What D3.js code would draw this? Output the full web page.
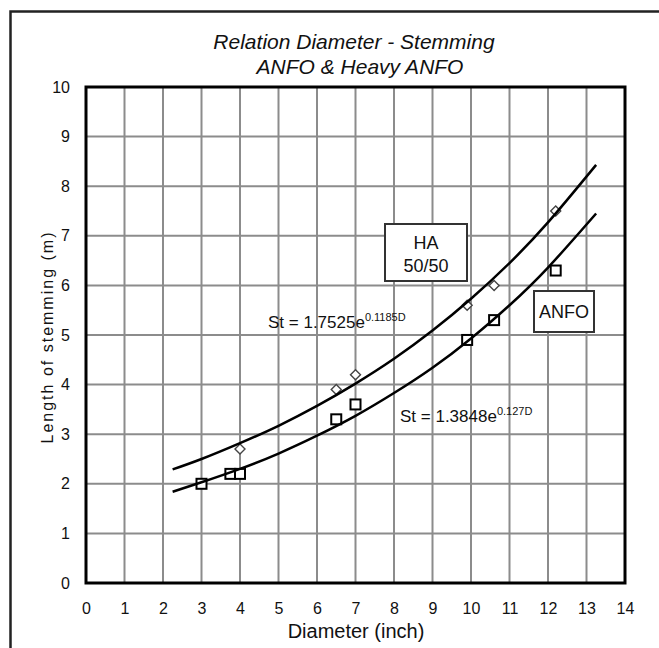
<!DOCTYPE html>
<html>
<head>
<meta charset="utf-8">
<script src="https://cdn.jsdelivr.net/npm/d3@7/dist/d3.min.js"></script>
<style>
  body { margin: 0; background: #fff; }
  text { font-family: "Liberation Sans", Arial, sans-serif; fill: #111; }
</style>
</head>
<body>
<script>
// Data
const haDiam = [4, 6.5, 7, 9.9, 10.6, 12.2];
const haStem = [2.7, 3.9, 4.2, 5.6, 6.0, 7.5];
const anfoDiam = [3, 3.75, 4, 6.5, 7, 9.9, 10.6, 12.2];
const anfoStem = [2.0, 2.2, 2.2, 3.3, 3.6, 4.9, 5.3, 6.3];

// trend lines, points
const curveDiam = [2.25, 3, 4, 5, 6, 7, 8, 9, 10, 11, 12, 13.25];
const haCurve = [2.29, 2.50, 2.82, 3.17, 3.57, 4.02, 4.52, 5.09, 5.73, 6.45, 7.27, 8.43];
const anfoCurve = [1.84, 2.03, 2.30, 2.61, 2.97, 3.37, 3.83, 4.34, 4.93, 5.60, 6.36, 7.45];

const xTicks = d3.range(0, 15);
const yTicks = d3.range(0, 11);

const w = 659;
const h = 648;
const padL = 86, padR = 625, padT = 87, padB = 583;

const svg = d3.select("body")
    .append("svg")
    .attr("width", w)
    .attr("height", h)

// outer frame
svg.append("rect")
    .attr("x", 10.5).attr("y", 11.5)
    .attr("width", 700).attr("height", 700)
    .attr("fill", "none")
    .attr("stroke", "#222")
    .attr("stroke-width", 2.5)

const x = d3.scaleLinear().domain([0, 14]).range([padL, padR]);
const y = d3.scaleLinear().domain([0, 10]).range([padB, padT]);

// grid
svg.append("g")
    .selectAll("line")
    .data(xTicks.slice(1, -1))
    .join("line")
    .attr("x1", d => x(d)).attr("x2", d => x(d))
    .attr("y1", padT).attr("y2", padB)
    .attr("stroke", "#8c8c8c").attr("stroke-width", 2)

svg.append("g")
    .selectAll("line")
    .data(yTicks.slice(1, -1))
    .join("line")
    .attr("y1", d => y(d)).attr("y2", d => y(d))
    .attr("x1", padL).attr("x2", padR)
    .attr("stroke", "#8c8c8c").attr("stroke-width", 2)

// axes (labels only)
const xAxis = svg.append("g")
    .attr("transform", `translate(0, ${padB})`)
    .call(d3.axisBottom(x).tickValues(xTicks).tickSize(0).tickPadding(20))
xAxis.select(".domain").remove()

const yAxis = svg.append("g")
    .attr("transform", `translate(${padL}, 0)`)
    .call(d3.axisLeft(y).tickValues(yTicks).tickSize(0).tickPadding(16))
yAxis.select(".domain").remove()

svg.selectAll(".tick text")
    .attr("font-size", 16)
    .attr("font-family", "Liberation Sans, Arial, sans-serif")
    .attr("fill", "#111")

// plot border
svg.append("rect")
    .attr("x", padL).attr("y", padT)
    .attr("width", padR - padL).attr("height", padB - padT)
    .attr("fill", "none")
    .attr("stroke", "#000")
    .attr("stroke-width", 3)

// markers
svg.append("g")
    .selectAll("path")
    .data(haDiam)
    .join("path")
    .attr("d", d3.symbol(d3.symbolDiamond2, 64))
    .attr("transform", (d, i) => `translate(${x(d)}, ${y(haStem[i])})`)
    .attr("fill", "#fff")
    .attr("stroke", "#444")
    .attr("stroke-width", 1.4)

svg.append("g")
    .selectAll("rect")
    .data(anfoDiam)
    .join("rect")
    .attr("x", d => x(d) - 5)
    .attr("y", (d, i) => y(anfoStem[i]) - 5)
    .attr("width", 10).attr("height", 10)
    .attr("fill", "#fff")
    .attr("stroke", "#000")
    .attr("stroke-width", 2)

// trend curves
const line = d3.line()
    .x(d => x(d[0]))
    .y(d => y(d[1]))
    .curve(d3.curveNatural)

svg.append("path")
    .attr("d", line(curveDiam.map((d, i) => [d, haCurve[i]])))
    .attr("fill", "none").attr("stroke", "#000").attr("stroke-width", 2.5)

svg.append("path")
    .attr("d", line(curveDiam.map((d, i) => [d, anfoCurve[i]])))
    .attr("fill", "none").attr("stroke", "#000").attr("stroke-width", 2.5)

// labelled boxes
svg.append("rect")
    .attr("x", 385).attr("y", 224).attr("width", 82).attr("height", 57)
    .attr("fill", "#fff").attr("stroke", "#333").attr("stroke-width", 2)
svg.append("text").attr("x", 426).attr("y", 249)
    .attr("text-anchor", "middle").attr("font-size", 18).text("HA")
svg.append("text").attr("x", 426).attr("y", 272)
    .attr("text-anchor", "middle").attr("font-size", 18).text("50/50")

svg.append("rect")
    .attr("x", 534).attr("y", 291).attr("width", 60).attr("height", 41)
    .attr("fill", "#fff").attr("stroke", "#333").attr("stroke-width", 2)
svg.append("text").attr("x", 564).attr("y", 318)
    .attr("text-anchor", "middle").attr("font-size", 18).text("ANFO")

// equations
function equation(px, py, base, exp) {
    const t = svg.append("text").attr("x", px).attr("y", py).attr("font-size", 17)
    t.append("tspan").text(base)
    t.append("tspan").attr("font-size", 11).attr("dy", -7).text(exp)
}
equation(268, 328, "St = 1.7525e", "0.1185D")
equation(400, 422, "St = 1.3848e", "0.127D")

// titles
svg.append("text")
    .attr("x", 354).attr("y", 49)
    .attr("text-anchor", "middle").attr("font-size", 21).attr("font-style", "italic")
    .text("Relation Diameter - Stemming")
svg.append("text")
    .attr("x", 360).attr("y", 74)
    .attr("text-anchor", "middle").attr("font-size", 21).attr("font-style", "italic")
    .text("ANFO & Heavy ANFO")

svg.append("text")
    .attr("x", 356).attr("y", 638)
    .attr("text-anchor", "middle").attr("font-size", 20)
    .text("Diameter (inch)")

svg.append("text")
    .attr("transform", "translate(53, 337) rotate(-90)")
    .attr("text-anchor", "middle").attr("font-size", 16)
    .attr("letter-spacing", 2)
    .text("Length of stemming (m)")
</script>
</body>
</html>
